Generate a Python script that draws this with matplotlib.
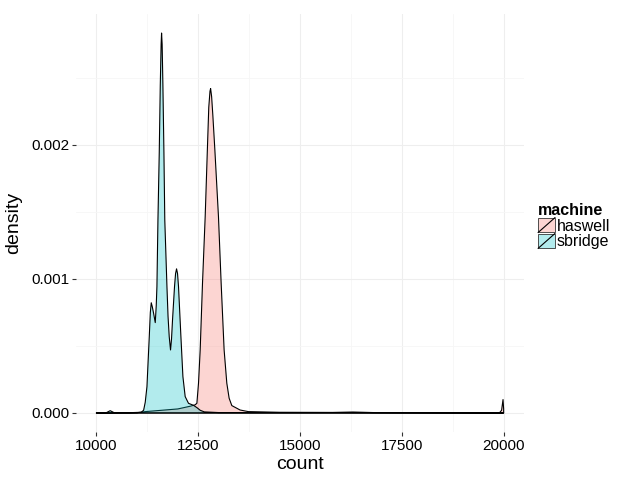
import matplotlib
matplotlib.use("Agg")
import matplotlib.pyplot as plt
from matplotlib.patches import Rectangle
from matplotlib.lines import Line2D
from matplotlib.legend_handler import HandlerBase

plt.rcParams['font.family'] = ['Liberation Sans', 'DejaVu Sans']

# density curves (x = count, y = density)
haswell_x = [10000, 11000, 11200, 11600, 12000, 12300, 12420, 12468, 12508, 12549,
             12606, 12672, 12725, 12760, 12790, 12805, 12830, 12860, 12910, 12998,
             13064, 13137, 13203, 13260, 13326, 13529, 13733, 14500, 15800, 16300,
             16800, 19900, 19950, 19985, 20000]
haswell_y = [0.0, 0.000002, 0.00001, 0.00002, 0.00003, 0.00005, 0.00006, 0.000072, 0.000222, 0.00047,
             0.000968, 0.001465, 0.00196, 0.00228, 0.00240, 0.00242, 0.00236, 0.00222, 0.00196, 0.001465,
             0.000968, 0.00047, 0.000222, 0.00011, 0.000055, 0.000022, 0.00001, 0.000005, 0.000004, 0.000007,
             0.000003, 0.000002, 0.00002, 0.0001, 0.00003]

sbridge_x = [10000, 10250, 10340, 10430, 10800, 11100, 11160, 11200, 11242, 11270,
             11299, 11325, 11348, 11375, 11405, 11446, 11470, 11487, 11512, 11544,
             11569, 11590, 11601, 11615, 11634, 11659, 11680, 11733, 11760, 11789,
             11821, 11845, 11870, 11919, 11945, 11969, 11993, 12017, 12076, 12125,
             12181, 12262, 12385, 12468, 12550, 12650, 13000, 16000, 20000]
sbridge_y = [0.0, 0.000003, 0.000017, 0.000003, 0.000002, 0.000005, 0.00002, 0.00008, 0.000196, 0.00038,
             0.000569, 0.00075, 0.000822, 0.00079, 0.000744, 0.000674, 0.0008, 0.000943, 0.00144, 0.00194,
             0.00244, 0.00275, 0.002834, 0.00275, 0.00244, 0.00194, 0.00144, 0.000943, 0.00072, 0.000569,
             0.00047, 0.00055, 0.000694, 0.000943, 0.00104, 0.001075, 0.00104, 0.000943, 0.000569, 0.000271,
             0.000122, 0.000072, 0.000057, 0.00004, 0.00002, 0.000008, 0.000003, 0.000003, 0.0]

machines = ["haswell", "sbridge"]
colors = {"haswell": "#F8766D", "sbridge": "#00BFC4"}
curves = {"haswell": (haswell_x, haswell_y), "sbridge": (sbridge_x, sbridge_y)}


class SlashHandler(HandlerBase):
    # ggplot-like key: filled square with a diagonal
    def create_artists(self, legend, orig_handle, xdescent, ydescent,
                       width, height, fontsize, trans):
        x0, y0 = -xdescent, -ydescent
        r = Rectangle((x0, y0), width, height, facecolor=orig_handle.get_facecolor(),
                      edgecolor="#333333", lw=0.6, transform=trans)
        ln = Line2D([x0, x0 + width], [y0, y0 + height], color="black", lw=0.8,
                    transform=trans)
        return [r, ln]


fig = plt.figure(figsize=(6.4, 4.8), dpi=100)
ax = fig.add_axes([76 / 640, 1 - 432 / 480, 448 / 640, 418 / 480])

for m in machines:
    xs, ys = curves[m]
    ax.fill_between(xs, ys, 0, facecolor=colors[m], alpha=0.3, lw=0)
    ax.fill_between(xs, ys, 0, facecolor="none", edgecolor="black", lw=0.8)

ax.set_xlim(9500, 20500)
ax.set_ylim(-0.000142, 0.002976)
ax.set_xticks([10000, 12500, 15000, 17500, 20000])
ax.set_xticks([11250, 13750, 16250, 18750], minor=True)
ax.set_yticks([0.0, 0.001, 0.002])
ax.set_yticks([0.0005, 0.0015, 0.0025], minor=True)
ax.set_yticklabels(["0.000", "0.001", "0.002"])
ax.grid(True, which="major", color="#EEEEEE", lw=0.8)
ax.grid(True, which="minor", color="#F6F6F6", lw=0.6)
ax.set_axisbelow(True)
for s in ax.spines.values():
    s.set_visible(False)
ax.tick_params(which="major", length=3, width=0.8, color="#333333",
               labelsize=11, labelcolor="black", pad=2)
ax.tick_params(which="minor", length=0)

ax.set_xlabel("count", fontsize=14, labelpad=2)
ax.set_ylabel("density", fontsize=14, labelpad=6)

handles = [Rectangle((0, 0), 1, 1, facecolor=matplotlib.colors.to_rgba(colors[m], 0.3))
           for m in machines]
leg = fig.legend(handles, machines, handler_map={Rectangle: SlashHandler()},
                 loc="center left", bbox_to_anchor=(527 / 640, 1 - 226 / 480),
                 frameon=False, fontsize=11.5, title="machine",
                 title_fontproperties={"weight": "bold", "size": 11.5},
                 handlelength=1.05, handleheight=1.05, labelspacing=0.0,
                 handletextpad=0.1, borderpad=0.2, alignment="left")

fig.savefig("out.png", dpi=100)
